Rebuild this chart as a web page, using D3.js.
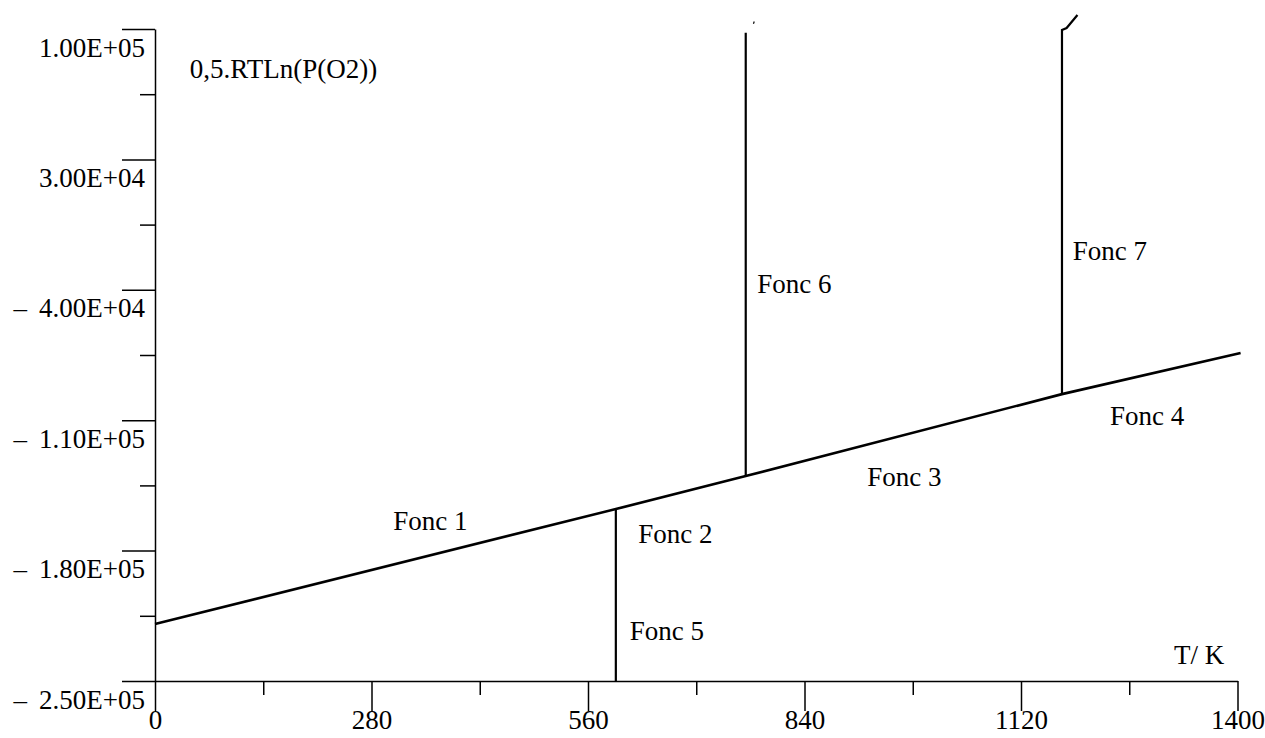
<!DOCTYPE html>
<html><head><meta charset="utf-8">
<script src="https://cdn.jsdelivr.net/npm/d3@7"></script>
<style>
body{margin:0;background:#fff}
svg text{font-family:"Liberation Serif","Times New Roman",serif;font-size:27px;fill:#000}
</style>
</head><body>
<svg id="c" width="1265" height="738"></svg>
<script>
// ---- data ----
const xTicks = [0, 280, 560, 840, 1120, 1400];
const xMinor = [140, 420, 700, 980, 1260];
const yTicks = [100000, 30000, -40000, -110000, -180000, -250000];
const yTickLabels = ["1.00E+05", "3.00E+04", "\u2013\u2009 4.00E+04", "\u2013\u2009 1.10E+05", "\u2013\u2009 1.80E+05", "\u2013\u2009 2.50E+05"];
const yMinor = [65000, -5000, -75000, -145000, -215000];

const mainT = [0, 596, 764, 1173, 1404];
const mainG = [-219400, -157700, -140000, -96000, -73900];
const fonc5T = [596, 596];
const fonc5G = [-157700, -250000];
const fonc6T = [764, 764];
const fonc6G = [-140000, 98000];
const fonc6TipT = [774, 775];
const fonc6TipG = [102800, 104000];
const fonc7T = [1173, 1173, 1179, 1193];
const fonc7G = [-96000, 99500, 100500, 107500];

const labelText = ["0,5.RTLn(P(O2))", "Fonc 1", "Fonc 2", "Fonc 3", "Fonc 4", "Fonc 5", "Fonc 6", "Fonc 7", "T/ K"];
const labelT = [45, 308, 625, 921, 1235, 614, 779, 1187, 1318];
const labelG = [73700, -168900, -175900, -145300, -112600, -228000, -41700, -24000, -240900];

// ---- chart ----
const svg = d3.select("#c");
const x = d3.scaleLinear().domain([0, 1400]).range([155, 1237.5]);
const y = d3.scaleLinear().domain([-250000, 100000]).range([681, 29]);

// minor ticks
svg.append("g").attr("transform", `translate(${x(0)},0)`)
  .call(d3.axisLeft(y).tickValues(yMinor).tickSize(15).tickSizeOuter(0).tickFormat(""))
  .call(g => g.select(".domain").remove());
svg.append("g").attr("transform", `translate(0,${y(-250000)})`)
  .call(d3.axisBottom(x).tickValues(xMinor).tickSize(14).tickSizeOuter(0).tickFormat(""))
  .call(g => g.select(".domain").remove());

// major y axis
const gy = svg.append("g").attr("transform", `translate(${x(0)},0)`)
  .call(d3.axisLeft(y).tickValues(yTicks).tickSize(33).tickSizeOuter(0)
    .tickFormat((d, i) => yTickLabels[i]));
gy.selectAll(".tick text").attr("x", -10).attr("dy", 27);

// major x axis
const gx = svg.append("g").attr("transform", `translate(0,${y(-250000)})`)
  .call(d3.axisBottom(x).tickValues(xTicks).tickSize(30).tickSizeOuter(0)
    .tickFormat(d3.format("d")));
gx.selectAll(".tick text").attr("y", 48).attr("dy", 0);

svg.selectAll(".domain, .tick line").attr("stroke", "#000").attr("stroke-width", 1.5);
svg.selectAll("g").attr("font-size", null).attr("font-family", null);

const line = d3.line().x(d => x(d[0])).y(d => y(d[1]));
function draw(T, G, w) {
  svg.append("path").datum(T.map((t, i) => [t, G[i]]))
    .attr("d", line).attr("fill", "none").attr("stroke", "#000").attr("stroke-width", w);
}
draw(mainT, mainG, 2.6);
draw(fonc5T, fonc5G, 2.2);
draw(fonc6T, fonc6G, 2.2);
draw(fonc6TipT, fonc6TipG, 1.2);
draw(fonc7T, fonc7G, 2.2);

svg.append("g").selectAll("text").data(labelText).join("text")
  .attr("x", (d, i) => x(labelT[i])).attr("y", (d, i) => y(labelG[i]))
  .text(d => d);
</script>
</body></html>
